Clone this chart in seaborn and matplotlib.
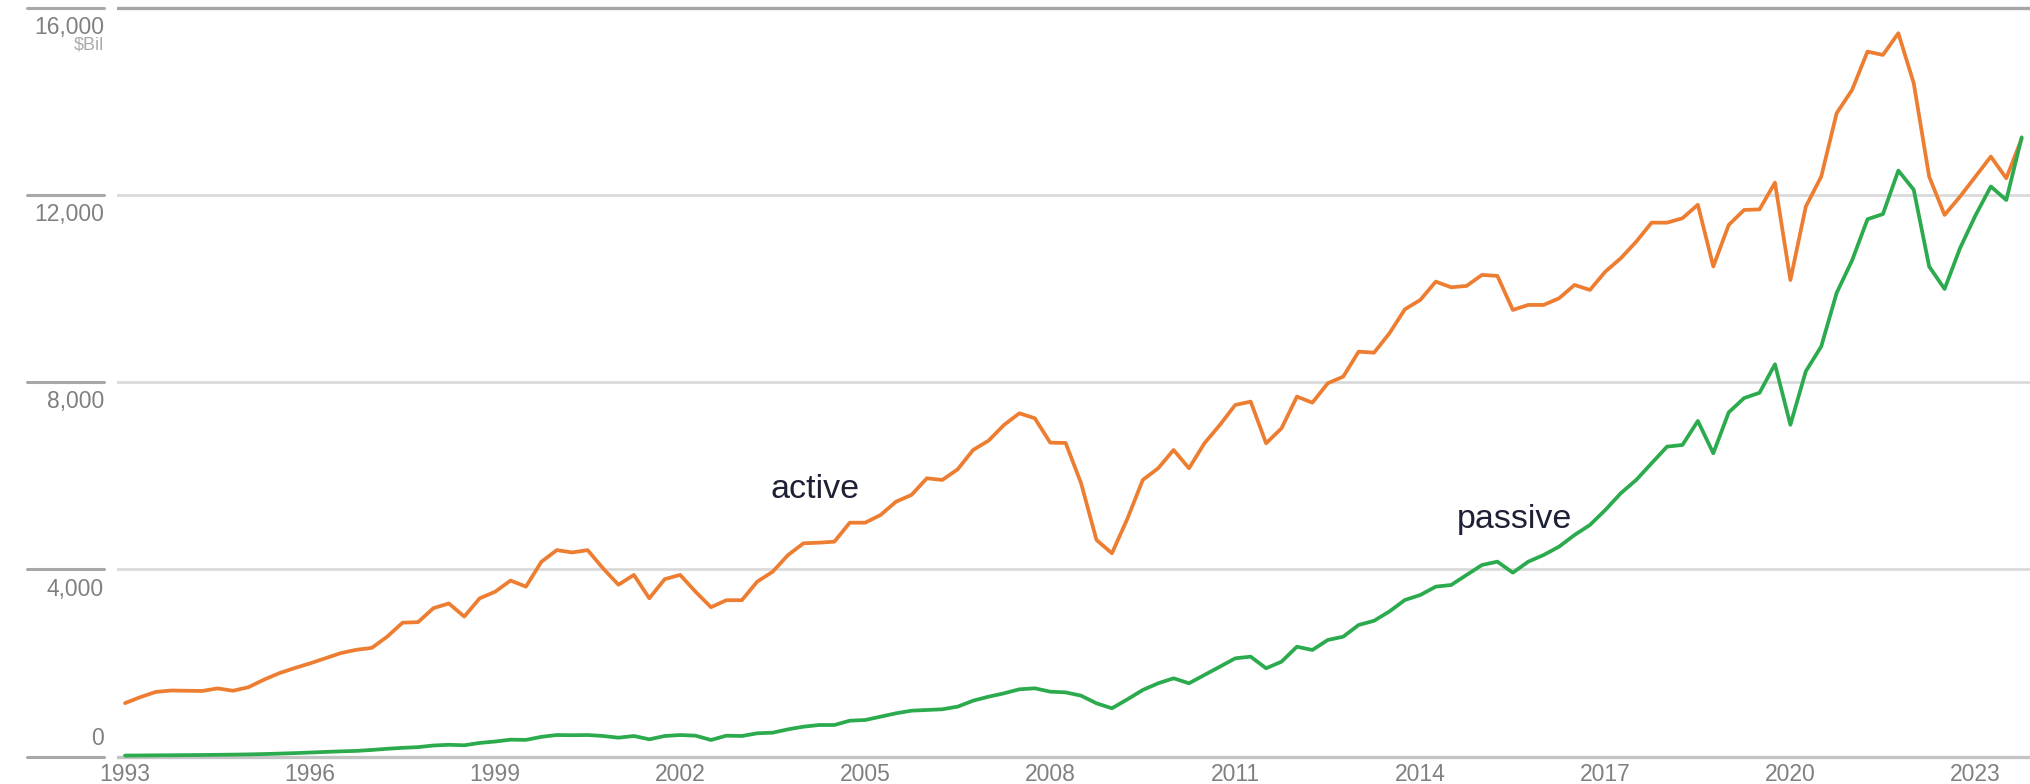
import numpy as np
import pandas as pd
import matplotlib
matplotlib.use("Agg")
import matplotlib.pyplot as plt
import matplotlib.transforms as mtransforms
from matplotlib.lines import Line2D
import seaborn as sns

# ---------------- data (quarterly, $Bil) ----------------
quarters = [f"{1993 + i // 4}Q{i % 4 + 1}" for i in range(124)]

active = [
    1140, 1270, 1380, 1410, 1405, 1400, 1455, 1405, 1480, 1640,
    1780, 1890, 1990, 2100, 2210, 2280, 2320, 2560, 2860, 2870,
    3170, 3270, 2990, 3380, 3520, 3760, 3630, 4160, 4410, 4360,
    4410, 4020, 3670, 3880, 3380, 3790, 3880, 3520, 3190, 3340,
    3340, 3736, 3949, 4306, 4556, 4569, 4590, 4996, 4996, 5161,
    5445, 5588, 5945, 5909, 6137, 6550, 6749, 7084, 7334, 7227,
    6706, 6700, 5840, 4628, 4342, 5076, 5909, 6159, 6550, 6159,
    6693, 7084, 7512, 7583, 6693, 7013, 7690, 7561, 7975, 8117,
    8651, 8629, 9044, 9556, 9755, 10147, 10026, 10055, 10290, 10269,
    9542, 9649, 9649, 9791, 10076, 9969, 10361, 10646, 11000, 11407,
    11407, 11501, 11790, 10470, 11358, 11679, 11690, 12262, 10180, 11750,
    12391, 13745, 14243, 15062, 14991, 15455, 14386, 12391, 11572, 11963,
    12391, 12818, 12356, 13200,
]

passive = [
    20, 22, 25, 27, 30, 32, 36, 40, 45, 52,
    62, 72, 85, 98, 110, 120, 140, 165, 185, 200,
    235, 250, 240, 290, 320, 360, 355, 420, 459, 455,
    459, 438, 402, 438, 367, 438, 459, 445, 353, 445,
    438, 496, 509, 581, 637, 673, 673, 765, 780, 851,
    923, 979, 994, 1009, 1065, 1193, 1278, 1350, 1436, 1457,
    1385, 1370, 1300, 1137, 1030, 1220, 1421, 1564, 1671, 1564,
    1742, 1919, 2098, 2133, 1885, 2026, 2346, 2276, 2490, 2560,
    2810, 2900, 3100, 3344, 3451, 3629, 3665, 3879, 4092, 4163,
    3928, 4163, 4306, 4484, 4733, 4947, 5268, 5625, 5909, 6266,
    6621, 6657, 7170, 6479, 7353, 7659, 7772, 8381, 7088, 8230,
    8762, 9905, 10600, 11480, 11590, 12520, 12110, 10470, 9990, 10860,
    11560, 12180, 11890, 13230,
]

y_ticks = [0, 4000, 8000, 12000, 16000]
x_ticks = [1993, 1996, 1999, 2002, 2005, 2008, 2011, 2014, 2017, 2020, 2023]
series_names = ["active", "passive"]
colors = {"active": "#ED7D31", "passive": "#2BAA4E"}

# ---------------- frame ----------------
def to_year(q):
    y, n = q.split("Q")
    return int(y) + (int(n) - 1) / 4.0

t = [to_year(q) for q in quarters]
df = pd.concat([
    pd.DataFrame({"t": t, "value": active, "series": "active"}),
    pd.DataFrame({"t": t, "value": passive, "series": "passive"}),
], ignore_index=True)

sns.set_style("white")
plt.rcParams["font.family"] = ["Liberation Sans", "DejaVu Sans"]

W, H = 2031, 784
fig = plt.figure(figsize=(W / 100, H / 100), dpi=100)
fig.patch.set_facecolor("white")

def fx(px):
    return px / W

def fy(px):
    return 1 - px / H

ax_top_px, ax_bot_px = -1.66, 765.86
ax = fig.add_axes([fx(117), fy(ax_bot_px), fx(2031) - fx(117), fy(ax_top_px) - fy(ax_bot_px)])
ax.set_xlim(1992.870, 2023.901)
ax.set_ylim(-200, 16200)

sns.lineplot(data=df, x="t", y="value", hue="series", hue_order=series_names,
             palette=colors, ax=ax, linewidth=2.7, legend=False, sort=False)
for ln in ax.get_lines():
    ln.set_solid_joinstyle("round")
    ln.set_solid_capstyle("round")

for s in ax.spines.values():
    s.set_visible(False)
ax.set_xlabel("")
ax.set_ylabel("")

ax.set_yticks(y_ticks)
ax.set_yticklabels([])
ax.tick_params(axis="y", length=0)
ax.set_axisbelow(True)
ax.grid(axis="y", color="#dadada", linewidth=2.0)
ax.grid(axis="x", visible=False)
gls = ax.yaxis.get_gridlines()
for v, gl in zip(y_ticks, gls):
    if v == 16000:
        gl.set_color("#a6a6a6")
        gl.set_linewidth(2.4)
    elif v == 0:
        gl.set_color("#c4c4c4")
        gl.set_linewidth(2.4)

ax.set_xticks(x_ticks)
ax.set_xticklabels([str(y) for y in x_ticks])
ax.tick_params(axis="x", length=0, pad=-2, labelsize=16.5, labelcolor="#808080")

# left short rules and y labels
trans = mtransforms.blended_transform_factory(fig.transFigure, ax.transData)
for v in y_ticks:
    fig.add_artist(Line2D([fx(27), fx(104)], [v, v], transform=trans,
                          color="#a8a8a8", linewidth=2.2, clip_on=False))
    if v == 0:
        ax.annotate(f"{v:,}", xy=(fx(104), v), xycoords=trans, xytext=(0, 5),
                    textcoords="offset points", ha="right", va="bottom",
                    fontsize=16.5, color="#808080", annotation_clip=False)
    else:
        ax.annotate(f"{v:,}", xy=(fx(104), v), xycoords=trans, xytext=(0, -6),
                    textcoords="offset points", ha="right", va="top",
                    fontsize=16.5, color="#808080", annotation_clip=False)

ax.annotate("$Bil", xy=(fx(104), y_ticks[-1]), xycoords=trans, xytext=(0, -21),
            textcoords="offset points", ha="right", va="top",
            fontsize=13, color="#ababab", annotation_clip=False)

# series annotations
ax.text(2003.46, 5524, "active", fontsize=24.5, color="#1e2136", ha="left", va="baseline")
ax.text(2014.60, 4883, "passive", fontsize=24.5, color="#1e2136", ha="left", va="baseline")

fig.savefig("out.png", dpi=100, facecolor="white")
